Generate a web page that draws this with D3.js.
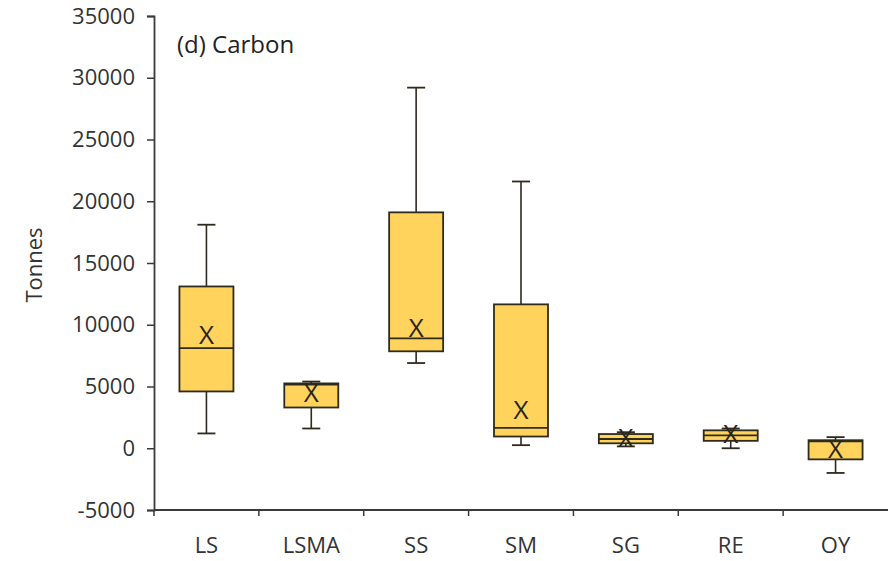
<!DOCTYPE html>
<html>
<head>
<meta charset="utf-8">
<script src="https://cdn.jsdelivr.net/npm/d3@7"></script>
<style>
    body { margin: 0; background: #fff; }
    svg { display: block; font-family: "Open Sans", "Noto Sans", sans-serif; }
</style>
</head>
<body>
<div id="chart"></div>
<script>
const width = 888;
const height = 561;

// カテゴリと箱ひげの値
const categories = ["LS", "LSMA", "SS", "SM", "SG", "RE", "OY"];
const whiskerLow = [1200, 1600, 6900, 250, 150, 0, -2000];
const q1 = [4600, 3300, 7850, 950, 400, 600, -900];
const median = [8100, 5150, 8900, 1650, 750, 1050, 550];
const q3 = [13100, 5250, 19100, 11650, 1150, 1450, 650];
const whiskerHigh = [18100, 5400, 29200, 21600, 1300, 1600, 900];
const means = [9200, 4450, 9700, 3100, 800, 1150, -50];
const yTicks = [-5000, 0, 5000, 10000, 15000, 20000, 25000, 30000, 35000];

const margin = { top: 16, right: 0, bottom: 51, left: 154 };

const svg = d3
    .select("#chart")
    .append("svg")
    .attr("width", width)
    .attr("height", height);

const x = d3
    .scaleBand()
    .domain(categories)
    .range([margin.left, width - margin.right])
    .padding(0);

const y = d3
    .scaleLinear()
    .domain([-5000, 35000])
    .range([height - margin.bottom, margin.top]);

const axisColor = "#3a3a3a";
const boxFill = "#FFD35C";
const boxStroke = "#2e2a1e";

// Y軸
const yAxis = svg
    .append("g")
    .attr("transform", `translate(${margin.left},0)`)
    .call(d3.axisLeft(y).tickValues(yTicks).tickSize(7).tickPadding(12).tickFormat(d => String(d)));

yAxis.select(".domain").attr("stroke", axisColor).attr("stroke-width", 1.8);
yAxis.selectAll(".tick line").attr("stroke", axisColor).attr("stroke-width", 1.5);
yAxis.selectAll(".tick text")
    .attr("fill", "#333")
    .attr("font-size", 22)
    .attr("font-family", "Open Sans, Noto Sans, sans-serif");

// X軸 (目盛りはカテゴリの境界)
const xAxisY = y(-5000);
svg.append("line")
    .attr("x1", margin.left)
    .attr("x2", width)
    .attr("y1", xAxisY)
    .attr("y2", xAxisY)
    .attr("stroke", axisColor)
    .attr("stroke-width", 1.8);

svg.selectAll(".xtick")
    .data(categories)
    .enter()
    .append("line")
    .attr("class", "xtick")
    .attr("x1", d => x(d))
    .attr("x2", d => x(d))
    .attr("y1", xAxisY)
    .attr("y2", xAxisY + 6)
    .attr("stroke", axisColor)
    .attr("stroke-width", 1.5);

svg.selectAll(".xlabel")
    .data(categories)
    .enter()
    .append("text")
    .attr("class", "xlabel")
    .attr("x", d => x(d) + x.bandwidth() / 2)
    .attr("y", xAxisY + 43)
    .attr("text-anchor", "middle")
    .attr("font-size", 22)
    .attr("fill", "#333")
    .text(d => d);

// 軸ラベル
svg.append("text")
    .attr("transform", `translate(42,265) rotate(-90)`)
    .attr("text-anchor", "middle")
    .attr("font-size", 22)
    .attr("fill", "#333")
    .text("Tonnes");

// パネルタイトル
svg.append("text")
    .attr("x", 177)
    .attr("y", 53)
    .attr("font-size", 24)
    .attr("fill", "#222")
    .text("(d) Carbon");

// 箱ひげ
const boxW = 54;
const capW = 18;

const groups = svg
    .selectAll(".box")
    .data(categories)
    .enter()
    .append("g")
    .attr("class", "box")
    .attr("transform", d => `translate(${x(d) + x.bandwidth() / 2},0)`);

// ひげ
groups.append("line")
    .attr("x1", 0).attr("x2", 0)
    .attr("y1", (d, i) => y(whiskerHigh[i]))
    .attr("y2", (d, i) => y(whiskerLow[i]))
    .attr("stroke", boxStroke)
    .attr("stroke-width", 1.6);

groups.append("line")
    .attr("x1", -capW / 2).attr("x2", capW / 2)
    .attr("y1", (d, i) => y(whiskerHigh[i]))
    .attr("y2", (d, i) => y(whiskerHigh[i]))
    .attr("stroke", boxStroke)
    .attr("stroke-width", 1.8);

groups.append("line")
    .attr("x1", -capW / 2).attr("x2", capW / 2)
    .attr("y1", (d, i) => y(whiskerLow[i]))
    .attr("y2", (d, i) => y(whiskerLow[i]))
    .attr("stroke", boxStroke)
    .attr("stroke-width", 1.8);

// 箱
groups.append("rect")
    .attr("x", -boxW / 2)
    .attr("width", boxW)
    .attr("y", (d, i) => y(q3[i]))
    .attr("height", (d, i) => y(q1[i]) - y(q3[i]))
    .attr("fill", boxFill)
    .attr("stroke", boxStroke)
    .attr("stroke-width", 1.8);

// 中央値
groups.append("line")
    .attr("x1", -boxW / 2).attr("x2", boxW / 2)
    .attr("y1", (d, i) => y(median[i]))
    .attr("y2", (d, i) => y(median[i]))
    .attr("stroke", boxStroke)
    .attr("stroke-width", 1.8);

// 平均値 (X印)
groups.append("text")
    .attr("x", 0)
    .attr("y", (d, i) => y(means[i]) + 9)
    .attr("text-anchor", "middle")
    .attr("font-size", 26)
    .attr("fill", "#2a2418")
    .text("X");
</script>
</body>
</html>
